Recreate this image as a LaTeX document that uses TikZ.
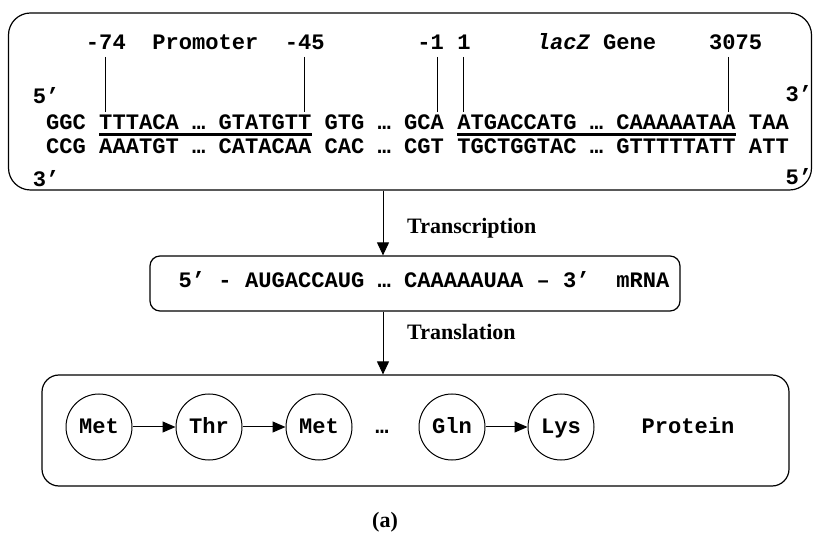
\documentclass[tikz,border=0pt]{standalone}
\usepackage{fontspec}
\setmainfont{Liberation Serif}
\setmonofont{Liberation Mono}
\usetikzlibrary{arrows.meta}
\begin{document}
\begin{tikzpicture}[x=1pt,y=1pt,
  mono/.style={font=\ttfamily\bfseries\fontsize{22.1}{26}\selectfont, inner sep=0pt, anchor=base west},
  lbl/.style={font=\bfseries\fontsize{22}{26}\selectfont, inner sep=0pt, anchor=base west},
  box/.style={draw, line width=1.2pt, rounded corners=#1, inner sep=0pt},
  aa/.style={circle, draw, line width=1pt, minimum size=66pt, inner sep=0pt,
    font=\ttfamily\bfseries\fontsize{22.1}{26}\selectfont, text height=13pt, text depth=0pt},
  plain/.style={inner sep=0pt, font=\ttfamily\bfseries\fontsize{22.1}{26}\selectfont, text height=13pt, text depth=0pt},
  tick/.style={line width=1pt},
  uline/.style={line width=3.3pt},
  arr/.style={line width=1pt, -{Triangle[length=13pt,width=12pt]}},
  arrs/.style={line width=1pt, -{Triangle[length=13pt,width=11pt]}}
]
\useasboundingbox (0,0) rectangle (813,538);
\fill[white] (0,0) rectangle (813,538);

% ---------- DNA box ----------
\node[box=22pt, minimum width=803pt, minimum height=177pt] (dna) at (410,436.5) {};

% label row (baseline 488)
\node[mono] (l74)  at ({46+3*13.26},488) {-74};
\node[mono] (lprom) at ({46+8*13.26},488) {Promoter};
\node[mono] (l45)  at ({46+18*13.26},488) {-45};
\node[mono] (lm1)  at ({46+28*13.26},488) {-1};
\node[mono] (lp1)  at ({46+31*13.26},488) {1};
\node[mono] (llac) at ({46+37*13.26},488) {\itshape lacZ};
\node[mono] (lgene) at ({46+42*13.26},488) {Gene};
\node[mono] (l3075) at ({46+50*13.26},488) {3075};

% strand ends
\node[mono] (e5a) at ({46-13.26},434) {5’};
\node[mono] (e3a) at (785.5,436) {3’};
\node[mono] (e3b) at ({46-13.26},351) {3’};
\node[mono] (e5b) at (785.5,353) {5’};

% top strand (baseline 408)
\node[mono] (t1)  at ({46+0*13.26},408) {GGC};
\node[mono] (t2)  at ({46+4*13.26},408) {TTTACA};
\node[mono] (t3)  at ({46+11*13.26},408) {…};
\node[mono] (t4)  at ({46+13*13.26},408) {GTATGTT};
\node[mono] (t5)  at ({46+21*13.26},408) {GTG};
\node[mono] (t6)  at ({46+25*13.26},408) {…};
\node[mono] (t7)  at ({46+27*13.26},408) {GCA};
\node[mono] (t8)  at ({46+31*13.26},408) {ATGACCATG};
\node[mono] (t9)  at ({46+41*13.26},408) {…};
\node[mono] (t10) at ({46+43*13.26},408) {CAAAAATAA};
\node[mono] (t11) at ({46+53*13.26},408) {TAA};

% bottom strand (baseline 384)
\node[mono] (b1)  at ({46+0*13.26},384) {CCG};
\node[mono] (b2)  at ({46+4*13.26},384) {AAATGT};
\node[mono] (b3)  at ({46+11*13.26},384) {…};
\node[mono] (b4)  at ({46+13*13.26},384) {CATACAA};
\node[mono] (b5)  at ({46+21*13.26},384) {CAC};
\node[mono] (b6)  at ({46+25*13.26},384) {…};
\node[mono] (b7)  at ({46+27*13.26},384) {CGT};
\node[mono] (b8)  at ({46+31*13.26},384) {TGCTGGTAC};
\node[mono] (b9)  at ({46+41*13.26},384) {…};
\node[mono] (b10) at ({46+43*13.26},384) {GTTTTTATT};
\node[mono] (b11) at ({46+53*13.26},384) {ATT};

% underlines
\draw[uline] ([yshift=-4.3pt]t2.base west) -- ([yshift=-4.3pt]t4.base east);
\draw[uline] ([yshift=-4.3pt]t8.base west) -- ([yshift=-4.3pt]t10.base east);

% position ticks
\coordinate (k1a) at ({46+4.5*13.26},481);  \coordinate (k1b) at ({46+4.5*13.26},426);
\coordinate (k2a) at ({46+19.5*13.26},481); \coordinate (k2b) at ({46+19.5*13.26},426);
\coordinate (k3a) at ({46+29.5*13.26},481); \coordinate (k3b) at ({46+29.5*13.26},426);
\coordinate (k4a) at ({46+31.5*13.26},481); \coordinate (k4b) at ({46+31.5*13.26},426);
\coordinate (k5a) at ({46+51.5*13.26},481); \coordinate (k5b) at ({46+51.5*13.26},426);
\draw[tick] (k1a) -- (k1b);
\draw[tick] (k2a) -- (k2b);
\draw[tick] (k3a) -- (k3b);
\draw[tick] (k4a) -- (k4b);
\draw[tick] (k5a) -- (k5b);

% ---------- mRNA box ----------
\node[box=10pt, minimum width=530pt, minimum height=55pt] (mrna) at (415,254.5) {};
\node[mono] (mtext) at ({377.4-15*13.26},250) {5’ - AUGACCAUG … CAAAAAUAA – 3’~~mRNA};

% ---------- protein box ----------
\node[box=17pt, minimum width=747pt, minimum height=111pt] (prot) at (415.5,107.5) {};
\node[aa] (met1) at (99,111) {Met};
\node[aa] (thr)  at (209,111) {Thr};
\node[aa] (met2) at (319,111) {Met};
\node[plain] (dots) at (382,111) {…};
\node[aa] (gln)  at (452,111) {Gln};
\node[aa] (lys)  at (561,111) {Lys};
\node[plain] (ptxt) at (688,111) {Protein};
\draw[arrs] (met1) -- (thr);
\draw[arrs] (thr) -- (met2);
\draw[arrs] (gln) -- (lys);

% ---------- process arrows ----------
\coordinate (ax) at (383,0);
\draw[arr] (dna.south -| ax) -- (mrna.north -| ax);
\draw[arr] (mrna.south -| ax) -- (prot.north -| ax);
\node[lbl] (transc) at (407,304) {Transcription};
\node[lbl] (transl) at (407,198) {Translation};

% caption
\node[font=\bfseries\fontsize{22}{26}\selectfont, inner sep=0pt, anchor=base] (cap) at (385,11) {(a)};
\end{tikzpicture}
\end{document}
